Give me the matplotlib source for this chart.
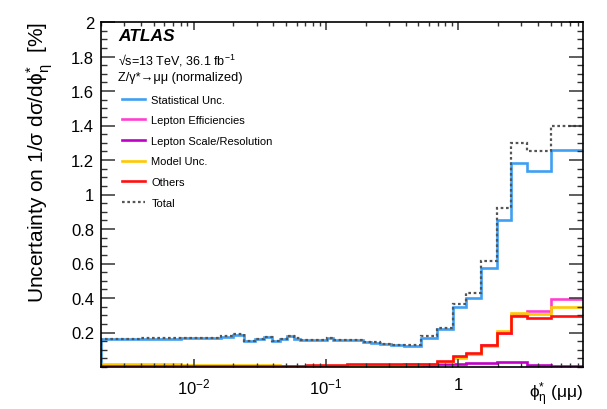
import numpy as np
import matplotlib
matplotlib.use("Agg")
import matplotlib.pyplot as plt
from matplotlib.ticker import MultipleLocator, FixedLocator, FuncFormatter, LogLocator, NullFormatter

plt.rcParams['font.family'] = ['Liberation Sans', 'DejaVu Sans']
plt.rcParams['mathtext.fontset'] = 'custom'
plt.rcParams['mathtext.rm'] = 'Liberation Sans'
plt.rcParams['mathtext.it'] = 'Liberation Sans:italic'
plt.rcParams['mathtext.bf'] = 'Liberation Sans:bold'

# phi*_eta bin edges
edges = [0.0, 0.004, 0.008, 0.012, 0.016, 0.020, 0.024, 0.029, 0.034, 0.039,
         0.045, 0.051, 0.057, 0.064, 0.072, 0.081, 0.091, 0.102, 0.114, 0.128,
         0.145, 0.165, 0.189, 0.219, 0.258, 0.312, 0.391, 0.524, 0.695, 0.918,
         1.153, 1.496, 1.947, 2.522, 3.277, 5.0, 10.0]

# uncertainties in % per bin
stat = [0.164, 0.165, 0.167, 0.170, 0.176, 0.188, 0.152, 0.163, 0.172, 0.152,
        0.163, 0.177, 0.165, 0.158, 0.156, 0.155, 0.156, 0.167, 0.158, 0.157,
        0.156, 0.155, 0.144, 0.142, 0.133, 0.125, 0.124, 0.166, 0.220, 0.346,
        0.400, 0.572, 0.854, 1.183, 1.134, 1.258]
lep_eff = [0.006, 0.006, 0.006, 0.006, 0.006, 0.006, 0.006, 0.006, 0.006, 0.006,
           0.006, 0.006, 0.008, 0.008, 0.008, 0.008, 0.008, 0.008, 0.008, 0.008,
           0.008, 0.008, 0.010, 0.011, 0.012, 0.014, 0.016, 0.020, 0.028, 0.060,
           0.075, 0.125, 0.200, 0.300, 0.323, 0.392]
lep_scale = [0.004, 0.004, 0.004, 0.004, 0.004, 0.004, 0.004, 0.004, 0.004, 0.004,
             0.004, 0.004, 0.004, 0.004, 0.004, 0.004, 0.004, 0.004, 0.004, 0.004,
             0.006, 0.007, 0.008, 0.009, 0.010, 0.011, 0.012, 0.013, 0.016, 0.020,
             0.022, 0.026, 0.030, 0.028, 0.012, 0.005]
model = [0.016, 0.015, 0.014, 0.013, 0.012, 0.011, 0.010, 0.010, 0.009, 0.009,
         0.008, 0.008, 0.007, 0.007, 0.006, 0.006, 0.006, 0.005, 0.005, 0.005,
         0.005, 0.005, 0.006, 0.006, 0.007, 0.008, 0.010, 0.015, 0.027, 0.055,
         0.075, 0.120, 0.210, 0.311, 0.307, 0.346]
others = [0.006, 0.006, 0.006, 0.006, 0.006, 0.006, 0.006, 0.006, 0.006, 0.006,
          0.006, 0.006, 0.007, 0.008, 0.009, 0.010, 0.011, 0.012, 0.013, 0.014,
          0.015, 0.017, 0.018, 0.019, 0.020, 0.020, 0.020, 0.020, 0.035, 0.066,
          0.081, 0.130, 0.200, 0.294, 0.282, 0.294]
total = [0.165, 0.166, 0.168, 0.171, 0.177, 0.189, 0.153, 0.164, 0.173, 0.153,
         0.164, 0.178, 0.166, 0.159, 0.157, 0.156, 0.157, 0.168, 0.159, 0.158,
         0.157, 0.156, 0.146, 0.144, 0.136, 0.129, 0.129, 0.178, 0.228, 0.363,
         0.430, 0.614, 0.920, 1.300, 1.252, 1.400]

x_min, x_max = 0.002, 8.75

fig = plt.figure(figsize=(6.07, 4.10), dpi=100)
ax = fig.add_axes([101/607, 42/410, 482/607, 345/410])

xe = np.maximum(np.array(edges), x_min)
series = [
    (stat, '#3f9ff2', 'Statistical Unc.'),
    (lep_eff, '#ff3fd0', 'Lepton Efficiencies'),
    (lep_scale, '#c000c8', 'Lepton Scale/Resolution'),
    (model, '#ffc800', 'Model Unc.'),
    (others, '#ff1010', 'Others'),
]
handles = []
for vals, col, lab in series:
    ax.stairs(vals, xe, baseline=0, color=col, lw=1.9)
    h, = ax.plot([], [], color=col, lw=1.9, label=lab)
    handles.append(h)
dots = (0, (1.2, 1.2))
ax.stairs(total, xe, baseline=0, color='#555555', lw=1.6, linestyle=dots)
h, = ax.plot([], [], color='#555555', lw=1.6, linestyle=dots, label='Total')
handles.append(h)

ax.set_xscale('log')
ax.set_xlim(x_min, x_max)
ax.set_ylim(0, 2)

ax.xaxis.set_major_locator(FixedLocator([0.01, 0.1, 1]))
ax.xaxis.set_major_formatter(FuncFormatter(
    lambda v, p: '1' if abs(v - 1) < 1e-9 else r'$10^{%d}$' % round(np.log10(v))))
ax.xaxis.set_minor_locator(LogLocator(base=10, subs=np.arange(2, 10)))
ax.xaxis.set_minor_formatter(NullFormatter())
ax.yaxis.set_major_locator(FixedLocator(np.round(np.arange(0.2, 2.01, 0.2), 2)))
ax.yaxis.set_major_formatter(FuncFormatter(lambda v, p: f'{v:g}'))
ax.yaxis.set_minor_locator(MultipleLocator(0.05))

ax.tick_params(axis='both', which='both', direction='in', top=True, right=True,
               labelsize=12, color='#333333')
ax.tick_params(axis='y', which='major', length=10, width=1.1, pad=5)
ax.tick_params(axis='y', which='minor', length=4.5, width=1.0)
ax.tick_params(axis='x', which='major', length=6, width=1.1, pad=7)
ax.tick_params(axis='x', which='minor', length=3, width=1.0)
for s in ax.spines.values():
    s.set_linewidth(1.2)

fig.text(40/607, 1 - 22/410,
         'Uncertainty on 1/σ dσ/d$\\mathrm{\\phi}^{*}_{\\mathrm{\\eta}}$  [%]',
         rotation=90, ha='center', va='top', fontsize=15)
ax.text(1.0, -0.078, '$\\mathrm{\\phi}^{*}_{\\mathrm{\\eta}}$ (μμ)', transform=ax.transAxes,
        ha='right', va='center', fontsize=12.5)

ax.text(0.035, 0.961, 'ATLAS', transform=ax.transAxes, fontsize=12.5,
        fontweight='bold', fontstyle='italic', va='center', ha='left')
ax.text(0.035, 0.891, '√s=13 TeV, 36.1 fb$^{-1}$', transform=ax.transAxes,
        fontsize=9, va='center', ha='left')
ax.text(0.035, 0.840, 'Z/γ*→μμ (normalized)', transform=ax.transAxes,
        fontsize=9.2, va='center', ha='left')

ax.legend(handles=handles, loc='upper left', bbox_to_anchor=(0.0436, 0.789),
          frameon=False, fontsize=8, handlelength=2.1, handletextpad=0.55,
          labelspacing=0.95, borderpad=0, borderaxespad=0)

fig.savefig('out.png', dpi=100)
